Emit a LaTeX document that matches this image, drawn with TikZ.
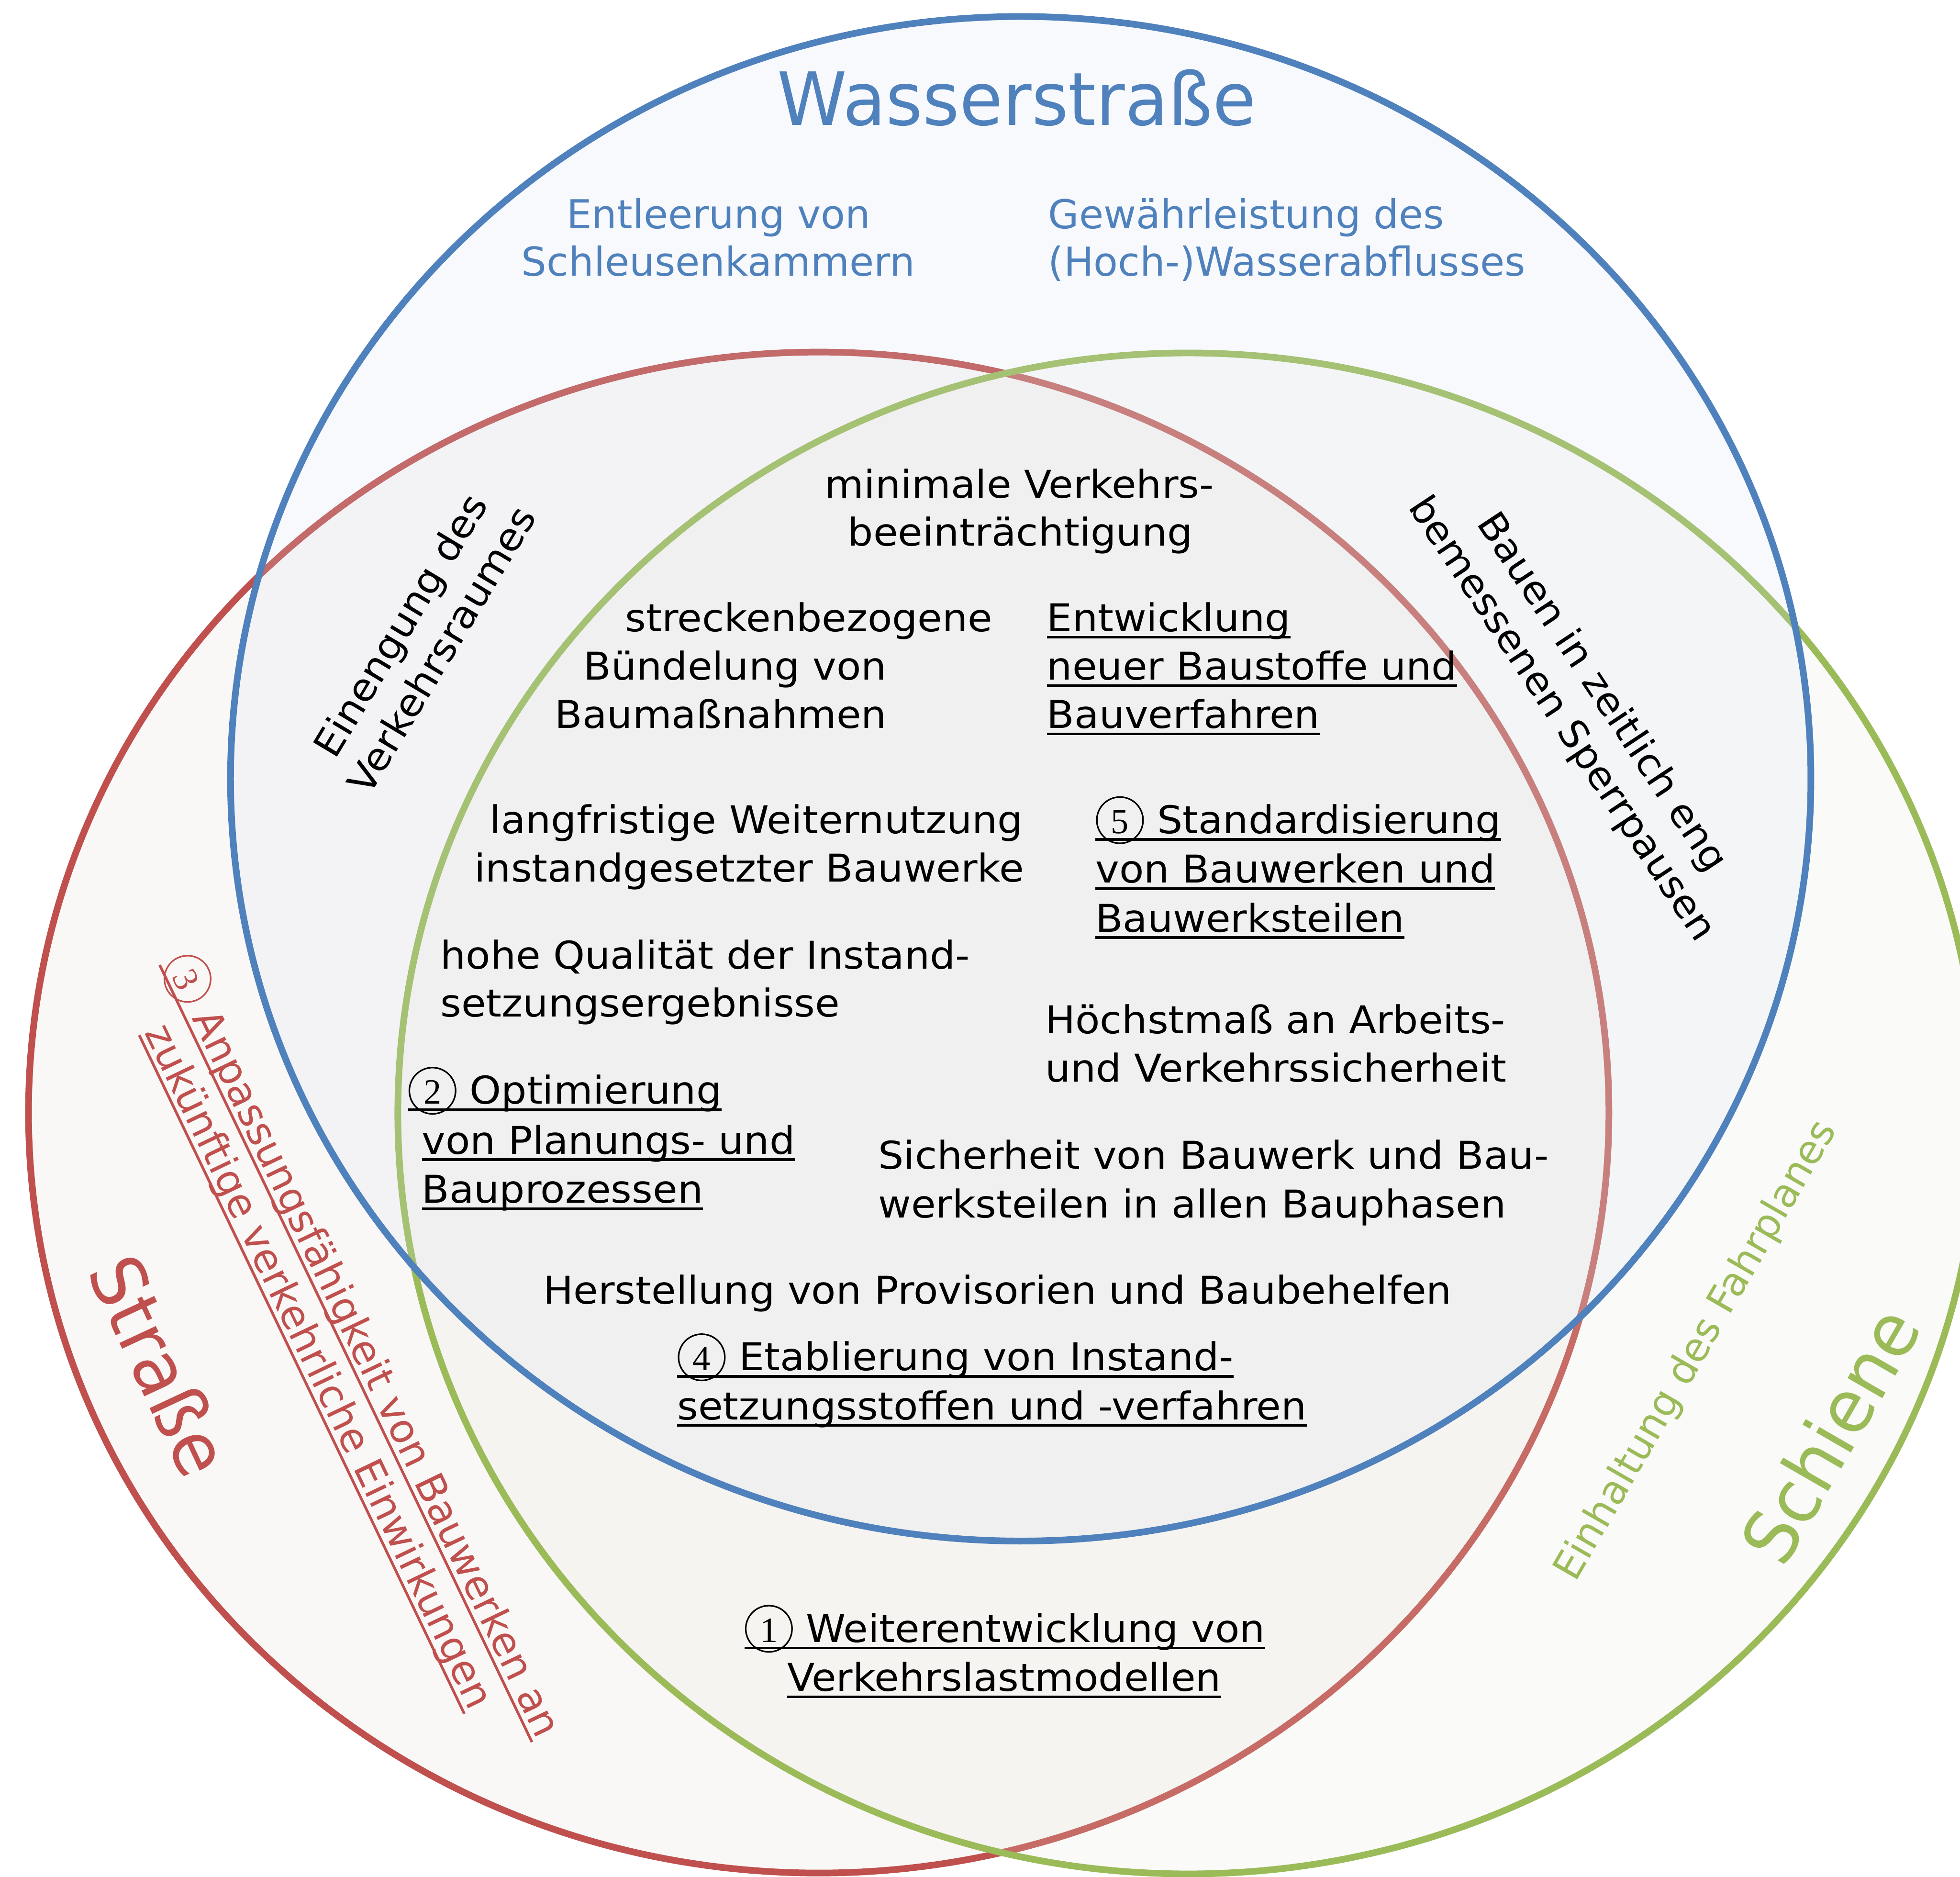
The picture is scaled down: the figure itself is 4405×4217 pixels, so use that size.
\documentclass[tikz,border=0pt]{standalone}
\usepackage{fontspec}
\setmainfont{DejaVu Sans}
\newfontfamily\bodyfont{DejaVu Sans}[FakeStretch=1.05]
\newfontfamily\labelfont{DejaVu Sans}[FakeStretch=0.96]
\newfontfamily\digitfont{Liberation Serif}

\definecolor{wblue}{HTML}{4F81BD}
\definecolor{sred}{HTML}{C0504D}
\definecolor{rgreen}{HTML}{9BBB59}
\definecolor{wbluefill}{RGB}{214,225,240}
\definecolor{sredfill}{RGB}{230,212,212}
\definecolor{rgreenfill}{RGB}{228,232,218}

% underlined line of text: a rule as wide as the text, set below the baseline
\newsavebox{\ulinebox}
\newcommand{\ulin}[1]{\sbox{\ulinebox}{#1}%
  \rlap{\rule[-1.6pt]{\wd\ulinebox}{0.6pt}}\usebox{\ulinebox}}
% circled step number: thin ring with a serif digit centred in it
\newcommand{\cnum}[1]{%
  \makebox[11pt][c]{\tikz[baseline=0pt,x=1pt,y=1pt]
    \draw[line width=0.35pt] (0,3) circle[radius=5.2pt];}%
  \hspace*{-11pt}%
  \makebox[11pt][c]{\digitfont\fontsize{8}{8}\selectfont #1}}

\tikzset{
  set/.style={line width=1.5pt, fill opacity=0.18},
  body/.style={font=\bodyfont\fontsize{8.6}{10.8}\selectfont, text=black,
    inner sep=0pt, anchor=base west},
  bodyc/.style={body, anchor=base},
  wsmall/.style={font=\fontsize{8.95}{10.7}\selectfont, text=wblue, inner sep=0pt},
  rsmall/.style={font=\fontsize{9.0}{11}\selectfont, text=sred, inner sep=0pt},
  gsmall/.style={font=\fontsize{8.9}{10.7}\selectfont, text=rgreen, inner sep=0pt},
  title/.style={font=\labelfont\fontsize{16.5}{17}\selectfont, inner sep=0pt},
}

\begin{document}
\begin{tikzpicture}[x=0.1pt, y=-0.1pt]
\useasboundingbox (0,0) rectangle (4405,4217);
\clip (0,0) rectangle (4405,4217);
\fill[white] (0,0) rectangle (4405,4217);

% the three sets: road, rail, waterway
\draw[set, draw=sred, fill=sredfill] (1840,2500) ellipse [x radius=177.6pt, y radius=170.9pt];
\draw[set, draw=rgreen, fill=rgreenfill] (2670,2502) ellipse [x radius=177.6pt, y radius=170.9pt];
\draw[set, draw=wblue, fill=wbluefill] (2294,1750) ellipse [x radius=177.6pt, y radius=171.3pt];

% set titles
\node[title, text=wblue, anchor=base] (tw) at (2285,281) {Wasserstraße};
\node[title, text=rgreen, rotate=60] (ts) at (4112,3224) {Schiene};
\node[title, text=sred, rotate=-65] (tr) at (360,3068) {Straße};

% waterway-only items
\node[wsmall, anchor=base] (w1) at (1615,513) {Entleerung von};
\node[wsmall, anchor=base] (w2) at (1614,620) {Schleusenkammern};
\node[wsmall, anchor=base west] (w3) at (2354,513) {Gewährleistung des};
\node[wsmall, anchor=base west] (w4) at (2354,620) {(Hoch-)Wasserabflusses};

% rail-only item
\node[gsmall, rotate=60] (fp) at (3813,3036) {Einhaltung des Fahrplanes};

% road-only item
\node[rsmall, rotate=-64.4, anchor=base] (r1) at (789,3036)
  {\ulin{\cnum{3} Anpassungsfähigkeit von Bauwerken an}};
\node[rsmall, rotate=-64.4, anchor=base] (r2) at (690,3083)
  {\ulin{zukünftige verkehrliche Einwirkungen}};

% pairwise overlaps
\node[body, anchor=center, align=center, rotate=59] (ev) at (945,1432)
  {Einengung des\\Verkehrsraumes};
\node[body, anchor=center, align=center, rotate=-56.5] (bz) at (3553,1587)
  {Bauen in zeitlich eng\\bemessenen Sperrpausen};
\node[bodyc] (l1) at (2258,3690) {\ulin{\cnum{1} Weiterentwicklung von}};
\node[bodyc] (l2) at (2257,3800) {\ulin{Verkehrslastmodellen}};

% common core
\node[bodyc] (a1) at (2291,1119) {minimale Verkehrs-};
\node[bodyc] (a2) at (2293,1227) {beeinträchtigung};
\node[bodyc] (b1) at (1818,1419) {streckenbezogene};
\node[bodyc] (b2) at (1652,1528) {Bündelung von};
\node[bodyc] (b3) at (1620,1636) {Baumaßnahmen};
\node[body] (c1) at (2351,1419) {\ulin{Entwicklung}};
\node[body] (c2) at (2351,1528) {\ulin{neuer Baustoffe und}};
\node[body] (c3) at (2351,1636) {\ulin{Bauverfahren}};
\node[bodyc] (d1) at (1700,1873) {langfristige Weiternutzung};
\node[bodyc] (d2) at (1684,1982) {instandgesetzter Bauwerke};
\node[body] (e1) at (2460,1873) {\ulin{\cnum{5} Standardisierung}};
\node[body] (e2) at (2460,1984) {\ulin{von Bauwerken und}};
\node[body] (e3) at (2460,2094) {\ulin{Bauwerksteilen}};
\node[body] (f1) at (988,2177) {hohe Qualität der Instand-};
\node[body] (f2) at (988,2285) {setzungsergebnisse};
\node[body] (h1) at (2347,2322) {Höchstmaß an Arbeits-};
\node[body] (h2) at (2347,2431) {und Verkehrssicherheit};
\node[body] (g1) at (915,2481) {\ulin{\cnum{2} Optimierung}};
\node[body] (g2) at (946,2593) {\ulin{von Planungs- und}};
\node[body] (g3) at (946,2703) {\ulin{Bauprozessen}};
\node[body] (i1) at (1972,2627) {Sicherheit von Bauwerk und Bau-};
\node[body] (i2) at (1972,2736) {werksteilen in allen Bauphasen};
\node[bodyc] (j1) at (2242,2930) {Herstellung von Provisorien und Baubehelfen};
\node[body] (k1) at (1520,3080) {\ulin{\cnum{4} Etablierung von Instand-}};
\node[body] (k2) at (1520,3190) {\ulin{setzungsstoffen und -verfahren}};
\end{tikzpicture}
\end{document}
